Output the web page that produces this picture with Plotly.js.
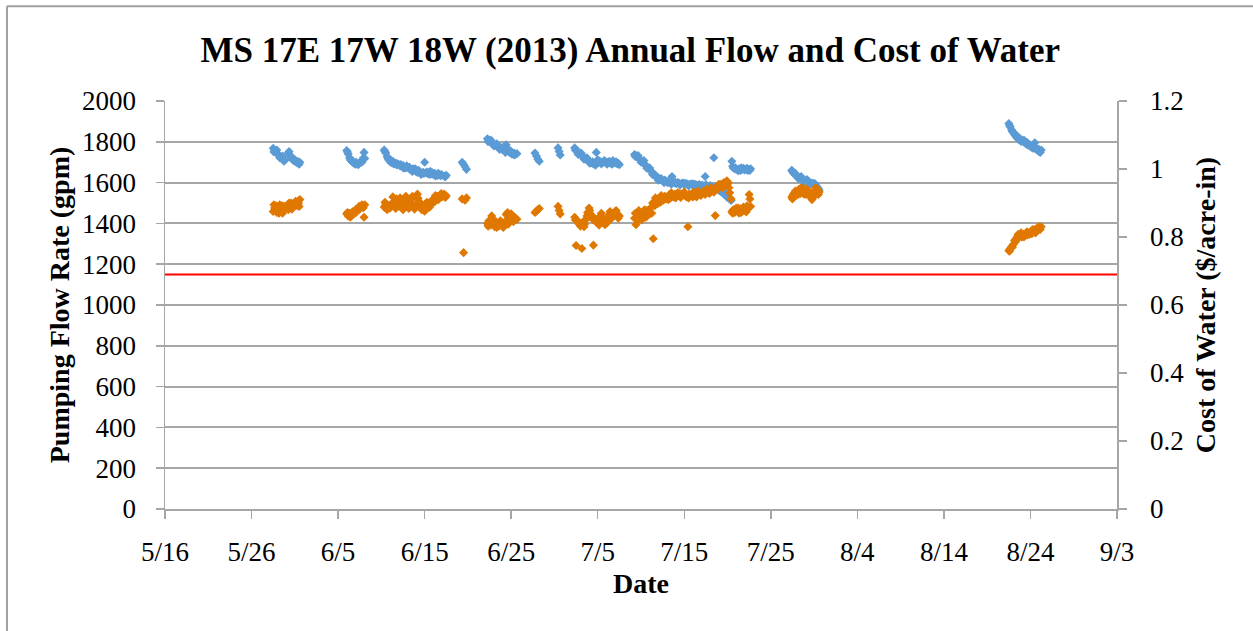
<!DOCTYPE html>
<html>
<head>
<meta charset="utf-8">
<script src="https://cdn.plot.ly/plotly-3.0.1.min.js"></script>
<style>
  html, body { margin: 0; padding: 0; background: #fff; }
  #chart { width: 1253px; height: 631px; }
</style>
</head>
<body>
<div id="chart"></div>
<script>
// ---- Data ----
const chartTitle = 'MS 17E 17W 18W (2013) Annual Flow and Cost of Water';
const xTitle = 'Date';
const yTitle = 'Pumping Flow Rate (gpm)';
const y2Title = 'Cost of Water ($/acre-in)';

// timestamps "MM-DD HH" in 2013
const times = [
  '05-28 12','05-28 16','05-28 20','05-29 00','05-29 04','05-29 08','05-29 12','05-29 16','05-29 20',
  '05-30 06','05-30 10','05-30 14','05-30 18','05-30 22','05-31 02','05-31 06','05-31 10','05-31 14',
  '06-06 00','06-06 04','06-06 08','06-06 12','06-06 16','06-06 20','06-07 00','06-07 04','06-07 08',
  '06-07 12','06-07 16','06-07 20','06-08 00','06-08 02',
  '06-10 08','06-10 12','06-10 16','06-10 20','06-11 00','06-11 04','06-11 08','06-11 12','06-11 16',
  '06-11 20','06-12 00','06-12 04','06-12 08','06-12 12','06-12 16','06-12 20','06-13 00','06-13 04',
  '06-13 08','06-13 12','06-13 16','06-13 20','06-14 00','06-14 04','06-14 08','06-14 12','06-14 16',
  '06-14 20','06-15 00','06-15 04','06-15 08','06-15 12','06-15 16','06-15 20','06-16 00','06-16 04',
  '06-16 08','06-16 12','06-16 16','06-16 20','06-17 00','06-17 06','06-17 12',
  '06-19 08','06-19 12','06-19 16','06-19 20',
  '06-22 06','06-22 10','06-22 14','06-22 18','06-22 22','06-23 02','06-23 06','06-23 10','06-23 14',
  '06-23 18','06-23 22','06-24 02','06-24 06','06-24 10','06-24 14','06-24 18','06-24 22','06-25 02',
  '06-25 06','06-25 10','06-25 16',
  '06-27 18','06-27 22','06-28 02','06-28 06',
  '06-30 10','06-30 13','06-30 16',
  '07-02 08','07-02 12','07-02 16','07-02 20','07-03 00','07-03 04','07-03 08','07-03 12','07-03 16',
  '07-03 20','07-04 00','07-04 04','07-04 08','07-04 12','07-04 16','07-04 20','07-05 00','07-05 04',
  '07-05 08','07-05 12','07-05 16','07-05 20','07-06 00','07-06 04','07-06 08','07-06 12','07-06 16',
  '07-06 20','07-07 00','07-07 06','07-07 12',
  '07-09 06','07-09 10','07-09 14','07-09 18','07-09 22','07-10 02','07-10 06','07-10 10','07-10 14',
  '07-10 18','07-10 22','07-11 02','07-11 06','07-11 10','07-11 14','07-11 18','07-11 22','07-12 02',
  '07-12 06','07-12 10','07-12 14','07-12 18','07-12 22','07-13 02','07-13 06','07-13 10','07-13 14',
  '07-13 18','07-13 22','07-14 02','07-14 06','07-14 10','07-14 14','07-14 18','07-14 22','07-15 02',
  '07-15 06','07-15 10','07-15 14','07-15 18','07-15 22','07-16 02','07-16 06','07-16 10','07-16 14',
  '07-16 18','07-16 22','07-17 02','07-17 06','07-17 10','07-17 14','07-17 18','07-17 22','07-18 02',
  '07-18 06','07-18 10','07-18 14','07-18 18','07-18 22','07-19 02','07-19 06','07-19 10','07-19 14',
  '07-19 18','07-19 22','07-20 02','07-20 06','07-20 10',
  '07-20 12','07-20 16','07-20 20','07-21 00','07-21 04','07-21 08','07-21 12','07-21 16','07-21 20',
  '07-22 00','07-22 04','07-22 08','07-22 12','07-22 16',
  '07-27 10','07-27 14','07-27 18','07-27 22','07-28 02','07-28 06','07-28 10','07-28 14','07-28 18',
  '07-28 22','07-29 02','07-29 06','07-29 10','07-29 14','07-29 18','07-29 22','07-30 02','07-30 06',
  '07-30 10','07-30 14',
  '08-21 12','08-21 16','08-21 20','08-22 00','08-22 04','08-22 08','08-22 12','08-22 16','08-22 20',
  '08-23 00','08-23 04','08-23 08','08-23 12','08-23 16','08-23 20','08-24 00','08-24 04','08-24 08',
  '08-24 12','08-24 16','08-24 20','08-25 00','08-25 06',
  // intermediate readings
  '05-28 14','05-28 22','05-29 06','05-29 14','05-29 18','05-30 08','05-30 16','05-31 00','05-31 08','05-31 12',
  '06-06 02','06-06 10','06-06 18','06-07 02','06-07 10','06-07 18','06-07 22',
  '06-10 10','06-10 18','06-11 02','06-11 10','06-11 18','06-12 06','06-12 14','06-12 22','06-13 06',
  '06-13 14','06-13 22','06-14 06','06-14 14','06-14 22','06-15 06','06-15 14','06-15 22','06-16 06',
  '06-16 14','06-16 22','06-17 09',
  '06-22 08','06-22 16','06-23 00','06-23 08','06-23 16','06-24 00','06-24 08','06-24 16','06-25 00','06-25 08',
  '07-02 10','07-02 18','07-03 02','07-03 10','07-03 18','07-04 02','07-04 10','07-04 18','07-05 02',
  '07-05 10','07-05 18','07-06 02','07-06 10','07-06 18','07-07 03','07-07 09',
  '07-09 08','07-09 16','07-10 00','07-10 08','07-10 16','07-11 00','07-11 08','07-11 16','07-12 00',
  '07-12 08','07-12 16','07-13 04','07-13 12','07-14 00','07-14 12','07-15 00','07-15 12','07-16 00',
  '07-16 12','07-17 00','07-17 12','07-18 00','07-18 12','07-19 00','07-19 12','07-20 00','07-20 04',
  '07-20 14','07-20 22','07-21 06','07-21 14','07-21 22','07-22 06','07-22 14',
  '07-27 12','07-27 20','07-28 04','07-28 12','07-28 20','07-29 04','07-29 12','07-29 20','07-30 04','07-30 12',
  '08-21 14','08-21 22','08-22 06','08-22 14','08-22 22','08-23 06','08-23 14','08-23 22','08-24 06',
  '08-24 14','08-24 22','08-25 03'
];

// pumping flow rate (gpm), left axis
const flowGpm = [
  1768,1755,1748,1740,1735,1728,1722,1715,1710,
  1745,1732,1720,1712,1706,1702,1698,1695,1700,
  1757,1740,1722,1708,1700,1695,1690,1692,1688,
  1697,1705,1712,1748,1718,
  1760,1745,1728,1712,1702,1698,1705,1696,1690,
  1686,1690,1682,1680,1684,1676,1672,1678,1670,
  1665,1660,1668,1662,1655,1650,1658,1652,1646,
  1650,1700,1648,1644,1650,1655,1642,1640,1645,
  1638,1635,1640,1634,1637,1632,1636,
  1700,1690,1678,1665,
  1815,1808,1800,1795,1790,1786,1782,1778,1772,
  1770,1765,1760,1755,1785,1758,1750,1745,1740,
  1738,1735,1742,
  1745,1730,1715,1705,
  1770,1752,1735,
  1770,1762,1752,1745,1738,1732,1726,1720,1715,
  1710,1704,1700,1696,1692,1690,1748,1712,1706,
  1702,1698,1700,1704,1698,1700,1705,1695,1690,
  1702,1696,1692,1688,
  1738,1732,1725,1718,1712,1705,1700,1690,1682,
  1675,1668,1660,1652,1645,1640,1632,1625,1620,
  1615,1612,1608,1612,1605,1600,1604,1598,1630,
  1602,1598,1595,1600,1596,1592,1598,1594,1590,
  1595,1592,1588,1594,1590,1586,1592,1588,1585,
  1590,1584,1588,1582,1630,1585,1578,1582,1576,
  1580,1722,1578,1570,1565,1560,1555,1550,1545,
  1538,1530,1525,1520,1512,
  1705,1672,1668,1665,1662,1668,1660,1665,1670,
  1662,1666,1660,1664,1668,
  1660,1648,1640,1635,1630,1625,1622,1618,1612,
  1608,1605,1610,1600,1598,1592,1590,1595,1585,
  1575,1562,
  1890,1872,1858,1845,1835,1825,1818,1810,1815,
  1805,1800,1795,1790,1785,1788,1778,1772,1768,
  1795,1762,1758,1752,1760,
  // intermediate readings
  1750,1760,1722,1730,1705,1752,1725,1712,1705,1690,
  1750,1712,1705,1700,1694,1700,1720,
  1752,1720,1710,1692,1695,1688,1670,1682,1675,
  1655,1668,1660,1640,1645,1652,1640,1648,1632,
  1646,1640,1628,
  1800,1808,1780,1790,1762,1772,1748,1765,1752,1745,
  1758,1738,1745,1715,1722,1695,1702,1685,1700,
  1692,1708,1690,1698,1708,1702,1695,
  1728,1732,1700,1708,1670,1672,1640,1630,1612,
  1620,1600,1608,1592,1602,1588,1598,1584,1594,
  1580,1576,1590,1585,1572,1565,1558,1535,1528,
  1680,1672,1658,1672,1665,1670,1660,
  1655,1645,1620,1630,1602,1615,1592,1598,1580,1570,
  1880,1850,1838,1822,1802,1808,1798,1780,1782,
  1770,1765,1748
];

// cost of water ($/acre-in), right axis
const costUsd = [
  0.875,0.885,0.892,0.880,0.870,0.884,0.892,0.878,0.886,
  0.880,0.893,0.900,0.888,0.896,0.905,0.893,0.899,0.910,
  0.868,0.862,0.870,0.865,0.874,0.872,0.880,0.877,0.884,
  0.882,0.888,0.891,0.858,0.895,
  0.888,0.895,0.880,0.892,0.885,0.898,0.918,0.890,0.884,
  0.902,0.895,0.915,0.888,0.880,0.905,0.920,0.892,0.884,
  0.898,0.912,0.890,0.882,0.896,0.926,0.905,0.886,0.880,
  0.890,0.876,0.884,0.892,0.900,0.895,0.906,0.912,0.904,
  0.916,0.920,0.914,0.924,0.918,0.926,0.921,
  0.912,0.754,0.908,0.915,
  0.840,0.848,0.835,0.862,0.842,0.830,0.845,0.838,0.832,
  0.848,0.836,0.828,0.834,0.866,0.872,0.858,0.850,0.862,
  0.845,0.858,0.852,
  0.872,0.876,0.880,0.884,
  0.890,0.878,0.868,
  0.858,0.775,0.848,0.838,0.832,0.766,0.845,0.838,0.852,
  0.872,0.885,0.868,0.860,0.776,0.855,0.848,0.840,0.835,
  0.862,0.850,0.842,0.836,0.848,0.858,0.866,0.852,0.860,
  0.870,0.874,0.868,0.862,
  0.855,0.836,0.868,0.878,0.862,0.850,0.872,0.880,0.858,
  0.866,0.874,0.885,0.870,0.795,0.892,0.905,0.898,0.910,
  0.902,0.915,0.908,0.920,0.912,0.918,0.924,0.915,0.922,
  0.918,0.926,0.920,0.930,0.922,0.916,0.925,0.930,0.922,
  0.918,0.830,0.926,0.920,0.928,0.932,0.924,0.918,0.935,
  0.928,0.922,0.930,0.936,0.925,0.940,0.932,0.928,0.945,
  0.938,0.932,0.863,0.948,0.942,0.950,0.955,0.945,0.960,
  0.952,0.965,0.958,0.930,0.912,
  0.875,0.880,0.872,0.885,0.878,0.870,0.882,0.876,0.888,
  0.880,0.874,0.884,0.925,0.890,
  0.918,0.925,0.930,0.922,0.935,0.940,0.928,0.936,0.944,
  0.932,0.925,0.938,0.930,0.918,0.910,0.922,0.935,0.928,
  0.940,0.932,
  0.760,0.766,0.772,0.778,0.790,0.795,0.802,0.798,0.805,
  0.800,0.808,0.804,0.810,0.806,0.812,0.815,0.810,0.818,
  0.822,0.816,0.825,0.828,0.830,
  // intermediate readings
  0.895,0.872,0.895,0.870,0.890,0.900,0.882,0.892,0.905,0.890,
  0.872,0.858,0.866,0.872,0.890,0.895,0.886,
  0.902,0.886,0.892,0.900,0.912,0.898,0.890,0.910,0.905,
  0.920,0.888,0.914,0.895,0.880,0.902,0.888,0.900,0.922,
  0.910,0.928,0.916,
  0.832,0.845,0.850,0.828,0.842,0.840,0.846,0.838,0.868,0.852,
  0.850,0.845,0.840,0.830,0.862,0.878,0.852,0.846,0.855,
  0.870,0.852,0.842,0.875,0.864,0.878,0.855,
  0.870,0.850,0.868,0.860,0.878,0.868,0.900,0.915,0.900,
  0.922,0.918,0.910,0.930,0.915,0.928,0.932,0.915,0.918,
  0.930,0.925,0.935,0.940,0.935,0.955,0.950,0.962,0.945,
  0.870,0.880,0.885,0.872,0.878,0.892,0.912,
  0.912,0.935,0.925,0.945,0.926,0.940,0.928,0.915,0.945,0.925,
  0.758,0.770,0.785,0.808,0.812,0.800,0.815,0.808,0.822,
  0.812,0.830,0.822
];

const thresholdGpm = 1150;          // red reference line (left axis)
const xRange = ['2013-05-16', '2013-09-03'];
const yRange = [0, 2000];
const y2Range = [0, 1.2];

// ---- Build chart ----
const xDates = times.map(t => '2013-' + t.slice(0, 5) + ' ' + t.slice(6) + ':00');
const FONT = '"Liberation Serif", "Times New Roman", Times, serif';
const GRID = '#a6a6a6';

const traces = [
  {
    x: xDates, y: flowGpm, type: 'scatter', mode: 'markers', name: 'Flow',
    marker: { symbol: 'diamond', size: 7, color: '#5b9bd5' },
    xaxis: 'x', yaxis: 'y', hoverinfo: 'x+y'
  },
  {
    x: xDates, y: costUsd, type: 'scatter', mode: 'markers', name: 'Cost',
    marker: { symbol: 'diamond', size: 7, color: '#e07800' },
    xaxis: 'x', yaxis: 'y2', hoverinfo: 'x+y'
  },
  {
    x: xRange, y: [thresholdGpm, thresholdGpm], type: 'scatter', mode: 'lines',
    name: 'Threshold', line: { color: '#ff0000', width: 2 },
    xaxis: 'x', yaxis: 'y', hoverinfo: 'skip'
  }
];

const layout = {
  width: 1253, height: 631,
  margin: { l: 165, r: 136, t: 101, b: 122, pad: 0 },
  paper_bgcolor: '#ffffff', plot_bgcolor: '#ffffff',
  showlegend: false,
  font: { family: FONT, color: '#000000', size: 27 },
  title: {
    text: '<b>' + chartTitle + '</b>',
    font: { family: FONT, size: 35, color: '#000' },
    x: 0.503, xref: 'container', xanchor: 'center',
    y: 1 - 50 / 631, yref: 'container', yanchor: 'middle'
  },
  xaxis: {
    type: 'date', range: xRange,
    tick0: xRange[0], dtick: 10 * 86400000, tickformat: '%-m/%-d',
    ticks: 'outside', ticklen: 8, tickcolor: GRID, tickwidth: 1.5,
    showline: true, linecolor: GRID, linewidth: 2,
    showgrid: false, zeroline: false,
    tickfont: { family: FONT, size: 27, color: '#000' },
    ticklabelstandoff: 10,
    title: { text: '<b>' + xTitle + '</b>', font: { family: FONT, size: 28, color: '#000' }, standoff: 7 },
    automargin: false, fixedrange: true
  },
  yaxis: {
    range: yRange, dtick: 200, tick0: 0,
    ticks: 'outside', ticklen: 8, tickcolor: GRID, tickwidth: 1.5,
    showline: true, linecolor: GRID, linewidth: 1.5,
    showgrid: true, gridcolor: GRID, gridwidth: 2, zeroline: false,
    tickfont: { family: FONT, size: 27, color: '#000' },
    ticklabelstandoff: 14,
    title: { text: '<b>' + yTitle + '</b>', font: { family: FONT, size: 28, color: '#000' }, standoff: 4 },
    automargin: false, fixedrange: true
  },
  yaxis2: {
    range: y2Range, dtick: 0.2, tick0: 0, overlaying: 'y', side: 'right',
    ticks: 'outside', ticklen: 8, tickcolor: GRID, tickwidth: 1.5,
    showline: true, linecolor: GRID, linewidth: 1.5,
    showgrid: false, zeroline: false,
    tickfont: { family: FONT, size: 27, color: '#000' },
    ticklabelstandoff: 18,
    title: { text: '<b>' + y2Title + '</b>', font: { family: FONT, size: 28, color: '#000' }, standoff: 12 },
    automargin: false, fixedrange: true
  },
  shapes: [
    { type: 'line', xref: 'paper', yref: 'paper', x0: -0.166, x1: -0.166, y0: -0.4, y1: 1.232,
      line: { color: '#a0a0a0', width: 2 } },
    { type: 'line', xref: 'paper', yref: 'paper', x0: -0.166, x1: 1.3, y0: 1.232, y1: 1.232,
      line: { color: '#a0a0a0', width: 2 } }
  ]
};

Plotly.newPlot('chart', traces, layout, { staticPlot: true, displayModeBar: false });
</script>
</body>
</html>
